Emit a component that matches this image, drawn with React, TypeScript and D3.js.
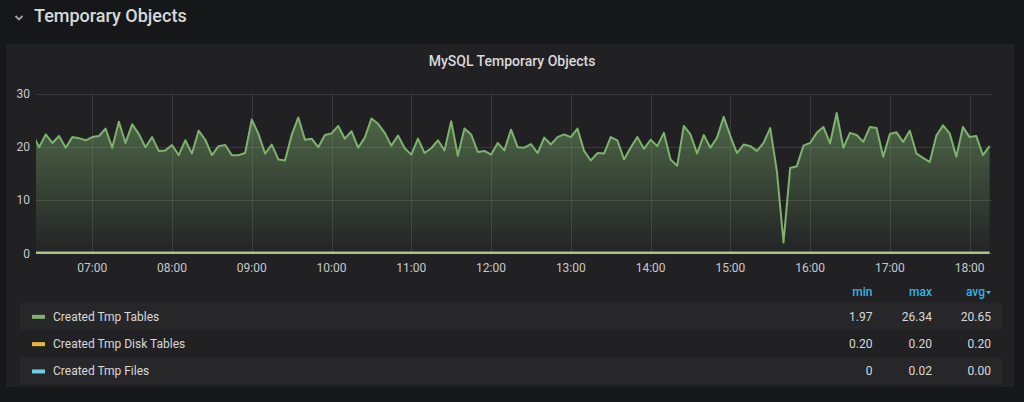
import * as d3 from "d3";
import {useRef, useEffect} from "react";

// samples every 5 minutes starting 06:15
const startTime = new Date(2019, 0, 1, 6, 15);
const stepMinutes = 5;

const tmpTables = [
    22.4, 19.9, 22.3, 20.7, 22.0, 19.8, 21.8, 21.6, 21.2,
    21.8, 22.0, 23.4, 19.8, 24.7, 20.7, 24.2, 22.4, 19.9, 21.8, 19.2, 19.3,
    20.3, 18.4, 21.2, 18.7, 23.0, 21.3, 18.4, 20.1, 20.3, 18.4, 18.4, 18.8,
    25.1, 22.4, 18.7, 20.4, 17.6, 17.4, 22.2, 25.5, 21.3, 21.5, 19.9, 22.2,
    22.5, 23.9, 21.5, 22.9, 19.8, 21.7, 25.3, 24.3, 22.6, 20.2, 22.1, 19.7,
    18.5, 21.5, 18.8, 19.7, 21.2, 19.3, 24.8, 18.3, 23.4, 22.3, 19.0, 19.2,
    18.5, 20.7, 19.3, 23.2, 19.9, 19.8, 20.5, 18.8, 21.7, 20.4, 21.8, 22.3,
    21.8, 23.4, 19.2, 17.4, 18.8, 18.7, 21.8, 21.2, 17.6, 19.8, 21.8, 19.6,
    21.3, 20.1, 22.6, 17.6, 16.4, 23.9, 22.3, 18.7, 22.2, 19.8, 21.7, 25.6,
    22.0, 18.8, 20.4, 20.1, 19.2, 20.7, 23.5, 15.4, 1.97, 16.0, 16.3, 20.2,
    20.7, 22.6, 23.7, 20.6, 26.34, 19.8, 22.6, 22.2, 20.9, 23.7, 23.5, 18.1,
    22.4, 22.7, 20.9, 23.0, 18.7, 17.9, 17.1, 22.1, 24.0, 22.5, 18.1, 23.7,
    21.8, 22.0, 18.4, 20.1,
];

const tmpDiskTables = [
    0.2, 0.2, 0.2, 0.2, 0.2, 0.2, 0.2, 0.2, 0.2,
    0.2, 0.2, 0.2, 0.2, 0.2, 0.2, 0.2, 0.2, 0.2, 0.2, 0.2, 0.2,
    0.2, 0.2, 0.2, 0.2, 0.2, 0.2, 0.2, 0.2, 0.2, 0.2, 0.2, 0.2,
    0.2, 0.2, 0.2, 0.2, 0.2, 0.2, 0.2, 0.2, 0.2, 0.2, 0.2, 0.2,
    0.2, 0.2, 0.2, 0.2, 0.2, 0.2, 0.2, 0.2, 0.2, 0.2, 0.2, 0.2,
    0.2, 0.2, 0.2, 0.2, 0.2, 0.2, 0.2, 0.2, 0.2, 0.2, 0.2, 0.2,
    0.2, 0.2, 0.2, 0.2, 0.2, 0.2, 0.2, 0.2, 0.2, 0.2, 0.2, 0.2,
    0.2, 0.2, 0.2, 0.2, 0.2, 0.2, 0.2, 0.2, 0.2, 0.2, 0.2, 0.2,
    0.2, 0.2, 0.2, 0.2, 0.2, 0.2, 0.2, 0.2, 0.2, 0.2, 0.2, 0.2,
    0.2, 0.2, 0.2, 0.2, 0.2, 0.2, 0.2, 0.2, 0.2, 0.2, 0.2, 0.2,
    0.2, 0.2, 0.2, 0.2, 0.2, 0.2, 0.2, 0.2, 0.2, 0.2, 0.2, 0.2,
    0.2, 0.2, 0.2, 0.2, 0.2, 0.2, 0.2, 0.2, 0.2, 0.2, 0.2, 0.2,
    0.2, 0.2, 0.2, 0.2,
];

const tmpFiles = [
    0, 0, 0, 0, 0, 0, 0, 0, 0,
    0, 0, 0, 0, 0, 0, 0, 0, 0, 0, 0, 0,
    0, 0, 0, 0, 0, 0, 0, 0, 0, 0, 0, 0,
    0, 0, 0, 0, 0, 0, 0, 0, 0, 0, 0, 0,
    0, 0, 0, 0, 0, 0, 0, 0.02, 0, 0, 0, 0,
    0, 0, 0, 0, 0, 0, 0, 0, 0, 0, 0, 0,
    0, 0, 0, 0, 0, 0, 0, 0, 0, 0, 0, 0,
    0, 0, 0, 0, 0, 0, 0, 0, 0, 0, 0, 0,
    0, 0, 0, 0, 0, 0, 0, 0, 0, 0, 0, 0,
    0, 0, 0, 0, 0, 0, 0, 0, 0, 0, 0, 0,
    0, 0, 0, 0, 0, 0, 0, 0, 0, 0, 0, 0,
    0, 0, 0, 0, 0, 0, 0, 0, 0, 0, 0, 0,
    0, 0, 0, 0,
];

const seriesNames = ["Created Tmp Tables", "Created Tmp Disk Tables", "Created Tmp Files"];
const seriesColors = ["#7eb26d", "#eab839", "#6ed0e0"];
const statHeaders = ["min", "max", "avg"];
const statMin = ["1.97", "0.20", "0"];
const statMax = ["26.34", "0.20", "0.02"];
const statAvg = ["20.65", "0.20", "0.00"];
const yTicks = [0, 10, 20, 30];

const FONT = "Roboto, 'Noto Sans', sans-serif";

export default function App() {
    const svgRef = useRef(null);
    const W = 1024, H = 402;
    const plot = {left: 36, right: 992, top: 93.5, bottom: 253};

    useEffect(() => {
        const svg = d3.select(svgRef.current);
        svg.selectAll("*").remove();

        svg.append("rect").attr("width", W).attr("height", H).attr("fill", "#161719");

        // row header
        svg.append("path")
            .attr("d", "M15.5,16 L19,19.5 L22.5,16")
            .attr("fill", "none").attr("stroke", "#9fa0a3").attr("stroke-width", 1.8);
        svg.append("text")
            .attr("x", 34).attr("y", 22)
            .attr("font-family", FONT).attr("font-size", 18).attr("font-weight", 500)
            .attr("fill", "#d8d9da")
            .text("Temporary Objects");

        // panel
        svg.append("rect")
            .attr("x", 6).attr("y", 44).attr("width", 1008).attr("height", 343)
            .attr("fill", "#212124");
        svg.append("text")
            .attr("x", 512).attr("y", 66).attr("text-anchor", "middle")
            .attr("font-family", FONT).attr("font-size", 14).attr("font-weight", 500)
            .attr("fill", "#d8d9da")
            .text("MySQL Temporary Objects");

        const times = tmpTables.map((_, i) => d3.timeMinute.offset(startTime, i * stepMinutes));

        const x = d3.scaleTime()
            .domain([new Date(2019, 0, 1, 6, 17, 40), new Date(2019, 0, 1, 18, 16, 50)])
            .range([plot.left, plot.right]);
        const y = d3.scaleLinear().domain([0, 30]).range([plot.bottom, plot.top]);

        // grid
        const grid = svg.append("g").attr("stroke", "#3a3a3c").attr("stroke-width", 1);
        yTicks.forEach(t => {
            grid.append("line")
                .attr("x1", plot.left).attr("x2", plot.right)
                .attr("y1", Math.round(y(t)) + 0.5).attr("y2", Math.round(y(t)) + 0.5);
        });
        const hours = x.ticks(d3.timeHour.every(1));
        hours.forEach(h => {
            grid.append("line")
                .attr("x1", Math.round(x(h)) + 0.5).attr("x2", Math.round(x(h)) + 0.5)
                .attr("y1", plot.top).attr("y2", plot.bottom);
        });

        // axis labels
        svg.append("g").selectAll("text").data(yTicks).join("text")
            .attr("x", 30).attr("y", d => y(d) + 4.5).attr("text-anchor", "end")
            .attr("font-family", FONT).attr("font-size", 12).attr("fill", "#c8c9ca")
            .text(d => d);
        const fmt = d3.timeFormat("%H:%M");
        svg.append("g").selectAll("text").data(hours).join("text")
            .attr("x", d => x(d)).attr("y", 272).attr("text-anchor", "middle")
            .attr("font-family", FONT).attr("font-size", 12).attr("fill", "#c8c9ca")
            .text(d => fmt(d));

        // clip + gradient
        const defs = svg.append("defs");
        defs.append("clipPath").attr("id", "plotClip")
            .append("rect")
            .attr("x", plot.left).attr("y", plot.top - 5)
            .attr("width", plot.right - plot.left).attr("height", plot.bottom - plot.top + 10);
        const grad = defs.append("linearGradient").attr("id", "greenFill")
            .attr("gradientUnits", "userSpaceOnUse")
            .attr("x1", 0).attr("x2", 0).attr("y1", plot.top).attr("y2", plot.bottom);
        grad.append("stop").attr("offset", 0).attr("stop-color", seriesColors[0]).attr("stop-opacity", 0.55);
        grad.append("stop").attr("offset", 1).attr("stop-color", seriesColors[0]).attr("stop-opacity", 0.02);

        const g = svg.append("g").attr("clip-path", "url(#plotClip)");

        const area = d3.area<number>()
            .x((_, i) => x(times[i]))
            .y0(y(0))
            .y1(d => y(d));
        g.append("path").datum(tmpTables).attr("fill", "url(#greenFill)").attr("d", area);

        const line = d3.line<number>()
            .x((_, i) => x(times[i]))
            .y(d => y(d));
        // draw order: green, cyan, then a thin orange on top so both stay visible
        const drawOrder: [number[], number, number][] = [
            [tmpTables, 0, 2],
            [tmpFiles, 2, 2],
            [tmpDiskTables, 1, 1.1],
        ];
        drawOrder.forEach(([s, k, w]) => {
            g.append("path").datum(s)
                .attr("fill", "none")
                .attr("stroke", seriesColors[k])
                .attr("stroke-width", w)
                .attr("stroke-linejoin", "round")
                .attr("d", line);
        });

        // legend table
        const colRight = [872.5, 932, 991];
        const leg = svg.append("g").attr("font-family", FONT);
        statHeaders.forEach((h, i) => {
            leg.append("text")
                .attr("x", i === 2 ? colRight[i] - 6 : colRight[i]).attr("y", 296)
                .attr("text-anchor", "end").attr("font-size", 12).attr("font-weight", 500)
                .attr("fill", "#33b5e5")
                .text(h);
        });
        leg.append("path")
            .attr("d", `M${colRight[2] - 5},291 L${colRight[2]},291 L${colRight[2] - 2.5},294.5 Z`)
            .attr("fill", "#33b5e5");

        const rowTop = 302.7, rowH = 27.3;
        const stats = [statMin, statMax, statAvg];
        seriesNames.forEach((name, i) => {
            const top = rowTop + i * rowH;
            const mid = top + rowH / 2;
            if (i % 2 === 0) {
                leg.append("rect")
                    .attr("x", 20).attr("y", top).attr("width", 982).attr("height", rowH)
                    .attr("fill", "#27272a");
            }
            leg.append("rect")
                .attr("x", 32).attr("y", mid - 1.5).attr("width", 13).attr("height", 4)
                .attr("fill", seriesColors[i]);
            leg.append("text")
                .attr("x", 53).attr("y", mid + 4.2)
                .attr("font-size", 12).attr("fill", "#d8d9da")
                .text(name);
            stats.forEach((col, j) => {
                leg.append("text")
                    .attr("x", colRight[j]).attr("y", mid + 4.2).attr("text-anchor", "end")
                    .attr("font-size", 12).attr("fill", "#d8d9da")
                    .text(col[i]);
            });
        });
    }, []);

    return (
        <svg ref={svgRef} width={W} height={H}
             style={{position: "fixed", left: 0, top: 0, display: "block"}} />
    );
}
